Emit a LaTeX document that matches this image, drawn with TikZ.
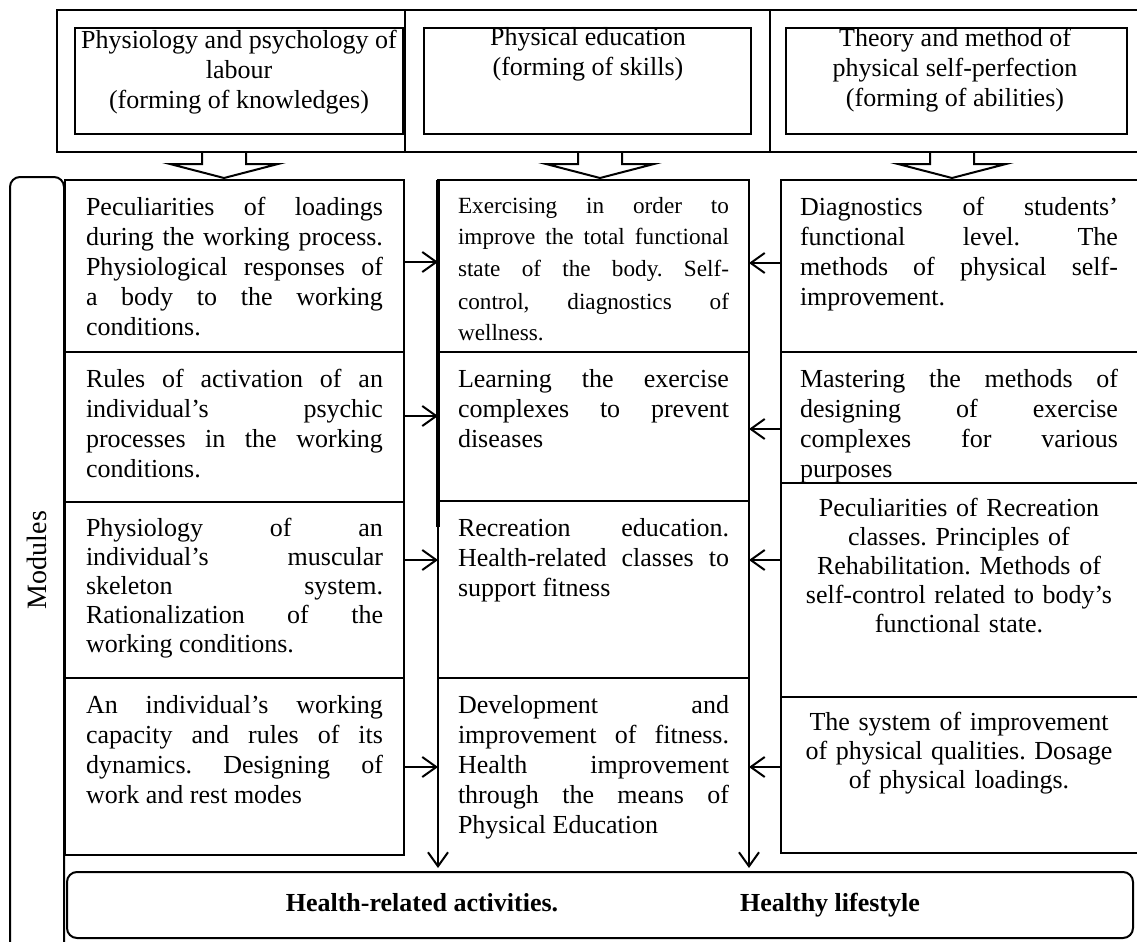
\documentclass[tikz,border=0pt]{standalone}
\usepackage{fontspec}
\setmainfont{Liberation Serif}
\usetikzlibrary{arrows.meta,fit}
\tolerance=10000
\hyphenpenalty=10000
\frenchspacing
\begin{document}
\begin{tikzpicture}[x=0.5pt,y=-0.5pt,line width=1pt,
  frame/.style={draw,line width=1pt,inner sep=0pt,outer sep=0pt},
  cell/.style={frame},
  body/.style={inner sep=0pt,outer sep=0pt,anchor=north west,align=justify,
    font=\fontsize{13}{15}\selectfont},
  lbody/.style={body,text width=148.5pt},
  mbody/.style={body,text width=135.5pt},
  rbody/.style={body,text width=159pt},
  head/.style={inner sep=0pt,anchor=north,align=center,
    font=\fontsize{13}{15}\selectfont},
  arr/.style={-{Straight Barb[length=7pt,width=10pt]},line width=1pt},
  blockarr/.pic={\draw[line width=1pt] (-22,0) -- (-22,12) -- (-54,12) -- (0,26)
    -- (54,12) -- (22,12) -- (22,0);}
]
\useasboundingbox (0,0) rectangle (1137,942);

% ---- top blocks ----
\node[frame,fit={(57,10)(405,152)}] (O1) {};
\node[frame,fit={(405,10)(770,152)}] (O2) {};
\node[frame,fit={(770,10)(1170,152)}] (O3) {};
\node[frame,fit={(75,28)(403,134)}] (I1) {};
\node[frame,fit={(424,28)(751,134)}] (I2) {};
\node[frame,fit={(786,28)(1127,134)}] (I3) {};
\node[head] (T1) at (239,26) {\strut Physiology and psychology of\\labour\\(forming of knowledges)};
\node[head] (T2) at (588,24) {\strut Physical education\\(forming of skills)};
\node[head] (T3) at (955,24) {\strut Theory and method of\\physical self-perfection\\(forming of abilities)};

\pic at (224,152) {blockarr};
\pic at (600,152) {blockarr};
\pic at (952,152) {blockarr};

% ---- modules frame ----
\node[frame,rounded corners=5pt,fit={(10,177)(64,980)}] (Mod) {};
\node[rotate=90,inner sep=0pt,font=\fontsize{14}{16}\selectfont] (ModT) at (37,560) {Modules};

% ---- left column ----
\node[cell,fit={(65,180)(404,352)}] (L1) {};
\node[cell,fit={(65,352)(404,502)}] (L2) {};
\node[cell,fit={(65,502)(404,678)}] (L3) {};
\node[cell,fit={(65,678)(404,855)}] (L4) {};

% ---- middle column ----
\node[cell,fit={(438,180)(749,352)}] (M1) {};
\node[cell,fit={(438,352)(749,501)}] (M2) {};
\node[cell,fit={(438,501)(749,678)}] (M3) {};
\node[inner sep=0pt,outer sep=0pt,fit={(438,678)(749,855)}] (M4) {};

% ---- right column ----
\node[cell,fit={(781,180)(1170,352)}] (R1) {};
\node[cell,fit={(781,352)(1170,483)}] (R2) {};
\node[cell,fit={(781,483)(1170,697)}] (R3) {};
\node[cell,fit={(781,697)(1170,853)}] (R4) {};

% ---- bottom result ----
\node[frame,rounded corners=5pt,fit={(67,872)(1133,938)}] (B) {};
\node[anchor=base,inner sep=0pt,font=\fontsize{13}{15}\selectfont\bfseries] (B1) at (422,911) {Health-related activities.};
\node[anchor=base,inner sep=0pt,font=\fontsize{13}{15}\selectfont\bfseries] (B2) at (830,911) {Healthy lifestyle};

% ---- cell texts ----
\node[lbody] (L1t) at (86,194) {\strut Peculiarities of loadings \linebreak during the working process. \linebreak Physiological responses of \linebreak a body to the working \linebreak conditions.};
\node[lbody] (L2t) at (86,366) {\strut Rules of activation of an \linebreak individual’s psychic \linebreak processes in the working \linebreak conditions.};
\node[lbody,font=\fontsize{13}{14.5}\selectfont] (L3t) at (86,516) {\strut Physiology of an \linebreak individual’s muscular \linebreak skeleton system. \linebreak Rationalization of the \linebreak working conditions.};
\node[lbody] (L4t) at (86,692) {\strut An individual’s working \linebreak capacity and rules of its \linebreak dynamics. Designing of \linebreak work and rest modes};

\node[mbody,font=\fontsize{11.6}{16}\selectfont] (M1t) at (458,190.6) {\strut Exercising in order to \linebreak improve the total functional \linebreak state of the body. Self-\linebreak control, diagnostics of \linebreak wellness.};
\node[mbody] (M2t) at (458,366) {\strut Learning the exercise \linebreak complexes to prevent \linebreak diseases};
\node[mbody] (M3t) at (458,515) {\strut Recreation education. \linebreak Health-related classes to \linebreak support fitness};
\node[mbody] (M4t) at (458,692) {\strut Development and \linebreak improvement of fitness. \linebreak Health improvement \linebreak through the means of \linebreak Physical Education};

\node[rbody] (R1t) at (800,194) {\strut Diagnostics of students’ \linebreak functional level. The \linebreak methods of physical self-\linebreak improvement.};
\node[rbody] (R2t) at (800,366) {\strut Mastering the methods of \linebreak designing of exercise \linebreak complexes for various \linebreak purposes};
\node[rbody,align=center,font=\fontsize{13}{14.5}\selectfont] (R3t) at (800,496) {\strut Peculiarities of Recreation\\classes. Principles of\\Rehabilitation. Methods of\\self-control related to body’s\\functional state.};
\node[rbody,align=center,font=\fontsize{13}{14.5}\selectfont] (R4t) at (800,710) {\strut The system of improvement\\of physical qualities. Dosage\\of physical loadings.};

% ---- connectors ----
\coordinate (a1) at (0,262);
\coordinate (a2) at (0,416);
\coordinate (a3) at (0,560);
\coordinate (a4) at (0,767);
\coordinate (b1) at (0,263);
\coordinate (b2) at (0,429);
\coordinate (b3) at (0,560);
\coordinate (b4) at (0,767);
\coordinate (thk) at (0,527);

\draw[arr] (L1.east |- a1) -- (M1.west |- a1);
\draw[arr] (L2.east |- a2) -- (M2.west |- a2);
\draw[arr] (L3.east |- a3) -- (M3.west |- a3);
\draw[arr] (L4.east |- a4) -- (M4.west |- a4);
\draw[arr] (R1.west |- b1) -- (M1.east |- b1);
\draw[arr] (R2.west |- b2) -- (M2.east |- b2);
\draw[arr] (R3.west |- b3) -- (M3.east |- b3);
\draw[arr] (R4.west |- b4) -- (M4.east |- b4);

\draw[line width=1.6pt] (M1.north west) -- (M1.north west |- thk);
\draw[arr,shorten >=2pt] (M1.north west) -- (M1.north west |- B.north);
\draw[arr,shorten >=2pt] (M1.north east) -- (M1.north east |- B.north);
\end{tikzpicture}
\end{document}
